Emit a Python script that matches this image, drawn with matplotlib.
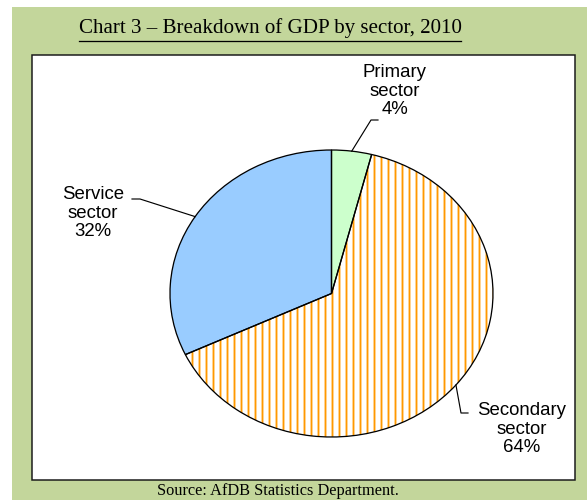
import numpy as np
import matplotlib
matplotlib.use("Agg")
import matplotlib.pyplot as plt
from matplotlib.patches import Rectangle
from matplotlib.lines import Line2D

# GDP shares by sector, 2010 (percent), clockwise from 12 o'clock
sectors = ["Primary\nsector", "Secondary\nsector", "Service\nsector"]
shares = [4, 64, 32]
fills = ["#CCFFCC", "white", "#99CCFF"]
hatches = ["", "||", ""]
hatch_cols = ["#CCFFCC", "#FF9900", "#99CCFF"]

W, H = 587, 503
DPI = 84
plt.rcParams['hatch.linewidth'] = 1.6

fig = plt.figure(figsize=(W / DPI, H / DPI), dpi=DPI)
fig.patch.set_facecolor("white")

def fx(x):
    return x / W

def fy(y):
    return 1 - y / H

# background / frame
bg = fig.add_axes([0, 0, 1, 1])
bg.set_xlim(0, W)
bg.set_ylim(H, 0)
bg.axis("off")
bg.add_patch(Rectangle((12, 7), W - 12, 493, facecolor="#C3D69B", edgecolor="none"))
bg.add_patch(Rectangle((32, 55), 543, 425, facecolor="white", edgecolor="#1a1a1a", lw=1.3))

title = bg.text(270, 28, "Chart 3 \u2013 Breakdown of GDP by sector, 2010", ha="center", va="center",
                family="Liberation Serif", fontsize=18, color="black")
bg.text(278, 491, "Source: AfDB Statistics Department.", ha="center", va="center",
        family="Liberation Serif", fontsize=14, color="black")

fig.canvas.draw()
bb = title.get_window_extent().transformed(bg.transData.inverted())
bg.plot([bb.x0, bb.x1], [41, 41], color="black", lw=1.1)

# the pie (elliptical in the original)
pl, pt, pr, pb = 170, 150, 493, 437
ax = fig.add_axes([fx(pl), fy(pb), (pr - pl) / W, (pb - pt) / H])
wedges, _ = ax.pie(shares, colors=fills, startangle=90, counterclock=False,
                   wedgeprops=dict(linewidth=0))
for w, h, c in zip(wedges, hatches, hatch_cols):
    w.set_hatch(h)
    w.set_edgecolor(c)
outline, _ = ax.pie(shares, colors=["none"] * 3, startangle=90, counterclock=False,
                    wedgeprops=dict(linewidth=1.1, edgecolor="black", fill=False))
ax.set_aspect("auto")
ax.set_xlim(-1, 1)
ax.set_ylim(-1, 1)
ax.axis("off")
for w in outline:
    w.set_clip_on(False)

# labels with leader lines (kink point, text end, text centre in pixels)
label_pos = [
    ((371, 120), (378, 120), (395, 91)),
    ((461, 413), (468, 413), (522, 429)),
    ((140, 199), (132, 199), (93, 213)),
]
fig.canvas.draw()
inv = bg.transData.inverted()
for w, txt, s, (kink, end, tc) in zip(wedges, sectors, shares, label_pos):
    mid = np.deg2rad((w.theta1 + w.theta2) / 2)
    ax_pt = ax.transData.transform((np.cos(mid), np.sin(mid)))
    a = inv.transform(ax_pt)
    bg_line = Line2D([a[0], kink[0], end[0]], [a[1], kink[1], end[1]], color="black", lw=1.0,
                     transform=bg.transData, zorder=5)
    fig.add_artist(bg_line)
    fig.text(fx(tc[0]), fy(tc[1]), f"{txt}\n{s}%", ha="center", va="center", multialignment="center",
             family="Liberation Sans", fontsize=16, linespacing=1.15, color="black")

fig.savefig("out.png", dpi=DPI)
